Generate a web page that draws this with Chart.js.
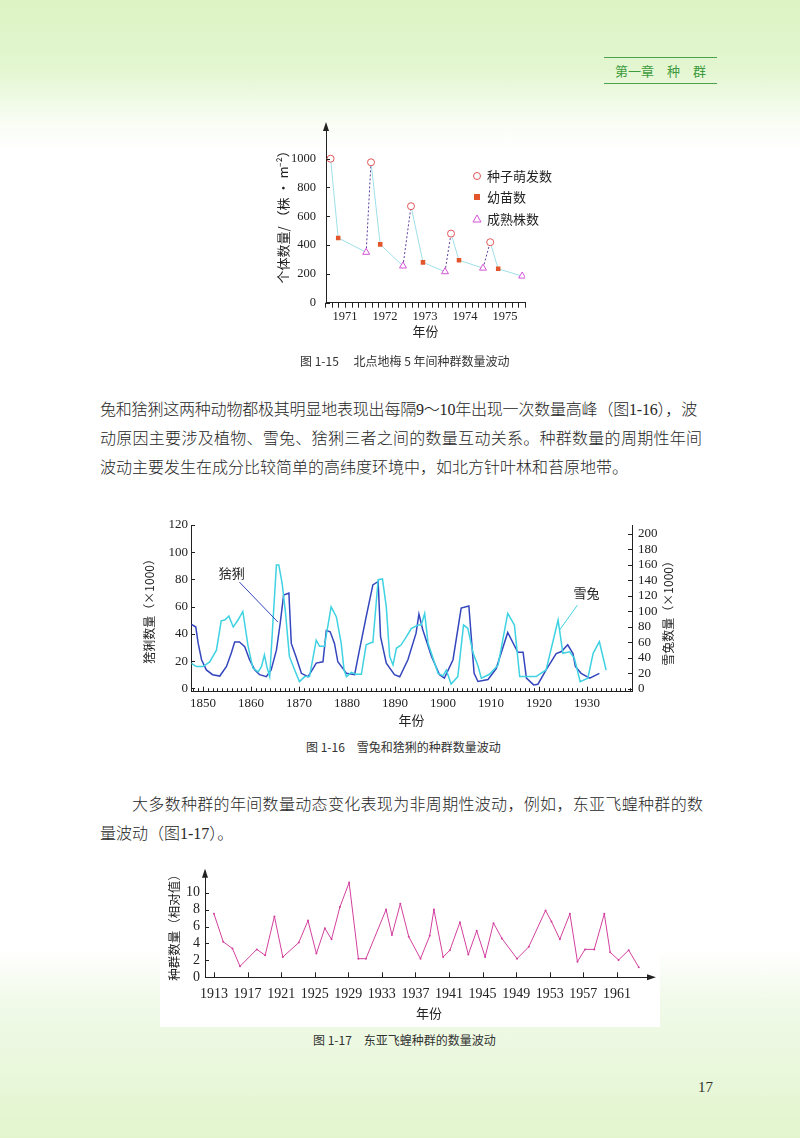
<!DOCTYPE html>
<html lang="zh-CN">
<head>
<meta charset="utf-8">
<title>第一章 种群</title>
<script src="https://cdn.jsdelivr.net/npm/chart.js@4.4.1/dist/chart.umd.min.js"></script>
<style>
html, body { margin: 0; padding: 0; }
body {
    width: 800px; height: 1138px; position: relative; overflow: hidden;
    background: linear-gradient(to bottom, #dcf3c3 0px, #e3f6d1 70px, #f8fdf3 120px, #ffffff 150px, #ffffff 950px, #f1faea 1000px, #e2f5cd 1138px);
    font-family: "Liberation Serif", "Noto Sans CJK SC", serif;
    color: #222;
}
.box { position: absolute; }
.line { position: absolute; font-size: 16px; line-height: 29px; height: 29px; font-weight: 300; color: #262626; }
.just { text-align: justify; text-align-last: justify; }
.cap { position: absolute; font-family: "Noto Sans CJK SC", sans-serif; font-size: 12px; line-height: 16px; color: #333; white-space: pre; }
.head { position: absolute; left: 604px; top: 57px; width: 113px; height: 25px; border-top: 1.5px solid #4aa24a; border-bottom: 1.5px solid #4aa24a;
        font-family: "Noto Sans CJK SC", sans-serif; font-size: 13px; line-height: 25px; color: #3d9a3d; text-align: center; white-space: pre; }
</style>
</head>
<body>

<div class="head">第一章　种　群</div>

<!-- 图 1-15 -->
<div class="box" style="left:270px; top:118px; width:295px; height:235px;"><canvas id="chartPlant"></canvas></div>
<div class="cap" style="left:300px; top:353px;">图 1-15　 北点地梅 5 年间种群数量波动</div>

<div class="line" style="left:100px; top:395px; white-space:nowrap; letter-spacing:-0.2px;">兔和猞猁这两种动物都极其明显地表现出每隔9～10年出现一次数量高峰（图1-16），波</div>
<div class="line just" style="left:100px; top:424px; width:602px;">动原因主要涉及植物、雪兔、猞猁三者之间的数量互动关系。种群数量的周期性年间</div>
<div class="line" style="left:100px; top:453px;">波动主要发生在成分比较简单的高纬度环境中，如北方针叶林和苔原地带。</div>

<!-- 图 1-16 -->
<div class="box" style="left:130px; top:505px; width:560px; height:230px;"><canvas id="chartLynx"></canvas></div>
<div class="cap" style="left:306px; top:739px;">图 1-16　雪兔和猞猁的种群数量波动</div>

<div class="line just" style="left:132px; top:790px; width:571px;">大多数种群的年间数量动态变化表现为非周期性波动，例如，东亚飞蝗种群的数</div>
<div class="line" style="left:100px; top:819px;">量波动（图1-17）。</div>

<!-- 图 1-17 -->
<div class="box" style="left:160px; top:862px; width:500px; height:165px; background:#ffffff;"><canvas id="chartLocust"></canvas></div>
<div class="cap" style="left:313px; top:1032px;">图 1-17　东亚飞蝗种群的数量波动</div>

<div class="box" style="left:698px; top:1079px; font-size:15px; color:#333;">17</div>

<script>
// ----------------------------------------------------------
// 数据：图 1-15 北点地梅（年份取小数，数量单位 株/m²）
// ----------------------------------------------------------
const germYears = [1970.64, 1971.65, 1972.65, 1973.65, 1974.63];
const germCount = [1000, 975, 670, 480, 420];
const seedlingYears = [1970.83, 1971.88, 1972.95, 1973.85, 1974.83];
const seedlingCount = [450, 405, 280, 295, 235];
const matureYears = [1971.53, 1972.45, 1973.5, 1974.45, 1975.43];
const matureCount = [350, 255, 215, 240, 185];
const plantYTicks = [0, 200, 400, 600, 800, 1000];

// ----------------------------------------------------------
// 数据：图 1-16 猞猁（左轴）和雪兔（右轴），单位 ×1000
// ----------------------------------------------------------
const lynxYears = [1847.6, 1848.5, 1849.0, 1849.7, 1850.7, 1852.0, 1853.5, 1854.9, 1855.9, 1856.6,
    1857.6, 1858.7, 1859.7, 1860.8, 1861.8, 1863.2, 1864.2, 1865.3, 1866.1, 1866.8,
    1867.9, 1868.4, 1869.4, 1870.5, 1871.9, 1873.6, 1875.0, 1875.7, 1876.5, 1877.4,
    1878.1, 1879.9, 1881.6, 1882.6, 1884.0, 1885.4, 1886.5, 1887.0, 1888.2, 1889.9,
    1891.0, 1892.7, 1894.4, 1895.0, 1895.8, 1897.6, 1899.3, 1900.3, 1902.1, 1903.8,
    1905.4, 1906.5, 1907.3, 1909.4, 1911.1, 1913.5, 1915.6, 1916.7, 1917.4, 1918.9,
    1919.8, 1921.5, 1923.6, 1924.7, 1926.0, 1927.1, 1927.6, 1928.8, 1930.6, 1932.6];
const lynxCount = [47, 45, 33, 21, 13.5, 10, 9, 16, 26, 34,
    34, 30.5, 21, 13.5, 10, 8.5, 13.5, 28, 48, 68.5,
    70, 33, 23, 11, 8.5, 18.5, 19.5, 42.5, 41.5, 33,
    19.5, 11, 10, 28, 52.5, 76, 78.5, 38, 18.5, 10,
    8.5, 21, 40.5, 54.5, 43, 23.5, 10, 7.5, 21, 59,
    60.5, 11, 5, 6.5, 14.5, 41, 26.5, 26.5, 7.5, 2.5,
    3, 13.5, 25.5, 27, 32, 25.5, 16, 11, 7.5, 11];

const hareYears = [1847.6, 1848.6, 1850.0, 1851.4, 1852.8, 1853.8, 1854.5, 1855.4, 1856.3, 1857.3,
    1858.3, 1859.4, 1860.4, 1861.5, 1862.2, 1862.8, 1863.3, 1863.9, 1864.6, 1865.3,
    1865.8, 1866.5, 1867.2, 1868.0, 1869.4, 1870.1, 1871.2, 1872.2, 1873.6, 1874.3,
    1875.3, 1876.7, 1877.8, 1878.8, 1879.4, 1879.9, 1880.9, 1881.9, 1883.0, 1884.0,
    1885.1, 1885.4, 1886.5, 1887.4, 1888.2, 1888.9, 1889.6, 1890.3, 1891.3, 1892.4,
    1893.4, 1894.8, 1895.5, 1896.2, 1896.9, 1898.3, 1899.0, 1900.0, 1900.7, 1901.7,
    1903.1, 1904.3, 1905.2, 1906.3, 1907.3, 1908.0, 1909.7, 1911.5, 1913.5, 1914.9,
    1916.0, 1917.4, 1919.4, 1921.5, 1924.0, 1925.0, 1926.4, 1927.4, 1928.6, 1930.2,
    1931.3, 1932.6, 1934.0];
const hareCount = [33, 29, 29, 35, 50, 88, 89, 94, 80, 89,
    100, 55, 27, 22, 29, 44, 29, 16, 89, 160,
    160, 136, 98, 42, 20, 9.5, 16, 16, 63, 55,
    55, 106, 93, 59, 24.5, 16, 21.5, 19, 19, 57,
    60, 60, 141, 142, 106, 42, 31, 52.5, 57, 67.5,
    78, 82.5, 82.5, 97.5, 59, 33, 20, 17, 24.5, 6.5,
    16, 82.5, 78, 46, 30, 14, 19, 31, 97.5, 82.5,
    16, 16, 16, 24.5, 89, 46, 48, 39.5, 9.5, 14,
    46, 61, 24.5];
const lynxYTicks = [0, 20, 40, 60, 80, 100, 120];
const hareYTicks = [0, 20, 40, 60, 80, 100, 120, 140, 160, 180, 200];

// ----------------------------------------------------------
// 数据：图 1-17 东亚飞蝗（相对值）
// ----------------------------------------------------------
const locustYears = [1913.0, 1914.1, 1915.2, 1916.1, 1918.1, 1919.1, 1920.2, 1921.2, 1923.1, 1924.2,
    1925.2, 1926.2, 1927.0, 1928.0, 1929.1, 1930.2, 1931.1, 1933.5, 1934.2, 1935.2,
    1936.2, 1937.6, 1938.7, 1939.2, 1940.3, 1941.1, 1942.3, 1943.3, 1944.3, 1945.3,
    1946.3, 1947.3, 1949.1, 1950.5, 1952.5, 1953.2, 1954.2, 1955.4, 1956.3, 1957.2,
    1958.3, 1959.5, 1960.2, 1961.2, 1962.4, 1963.6];
const locustValue = [7.5, 4.2, 3.4, 1.3, 3.3, 2.6, 7.2, 2.4, 4.1, 6.7,
    2.8, 5.8, 4.5, 8.3, 11.2, 2.2, 2.2, 8.0, 5.0, 8.7,
    4.8, 2.2, 4.9, 8.0, 2.4, 3.2, 6.5, 2.7, 5.5, 2.4,
    6.4, 4.6, 2.2, 3.6, 7.9, 6.6, 4.5, 7.5, 1.85, 3.3,
    3.3, 7.5, 2.95, 2.05, 3.2, 1.2];
const locustXTicks = [1913, 1917, 1921, 1925, 1929, 1933, 1937, 1941, 1945, 1949, 1953, 1957, 1961];
const locustYTicks = [0, 2, 4, 6, 8, 10];

// ----------------------------------------------------------
// 通用字体与颜色
// ----------------------------------------------------------
const serif = "'Liberation Serif', serif";
const hei = "'Noto Sans CJK SC', sans-serif";
const ink = "#222";
const plain = v => String(v);

// 固定坐标轴尺寸，并去掉 Chart.js 为刻度文字自动加的边距
function fixSize(prop, size) {
    return s => {
        s[prop] = size;
        s.paddingTop = 0;
        s.paddingBottom = 0;
        s.paddingLeft = 0;
        s.paddingRight = 0;
    };
}

// ----------------------------------------------------------
// 插件：刻度短线（向内或向外）
// ----------------------------------------------------------
const tickMarks = {
    id: "tickMarks",
    afterDatasetsDraw(chart, args, opts) {
        const ctx = chart.ctx;
        ctx.save();
        ctx.strokeStyle = opts.color || ink;
        ctx.lineWidth = 1;
        ctx.beginPath();
        (opts.axes || []).forEach(a => {
            const s = chart.scales[a.id];
            const sign = a.dir === "in" ? 1 : -1;
            s.ticks.forEach(t => {
                const len = (t.label !== "" ? a.major : a.minor) * sign;
                const p = Math.round(s.getPixelForValue(t.value)) + 0.5;
                if (s.isHorizontal()) {
                    ctx.moveTo(p, s.top);
                    ctx.lineTo(p, s.top - len);
                } else if (s.position === "left") {
                    ctx.moveTo(s.right, p);
                    ctx.lineTo(s.right + len, p);
                } else {
                    ctx.moveTo(s.left, p);
                    ctx.lineTo(s.left - len, p);
                }
            });
        });
        ctx.stroke();
        ctx.restore();
    }
};

// ----------------------------------------------------------
// 插件：坐标轴箭头
// ----------------------------------------------------------
const axisArrows = {
    id: "axisArrows",
    afterDraw(chart, args, opts) {
        const ctx = chart.ctx;
        const area = chart.chartArea;
        ctx.save();
        ctx.fillStyle = ink;
        if (opts.up) {
            ctx.beginPath();
            ctx.moveTo(area.left, area.top - 3);
            ctx.lineTo(area.left - 3, area.top + 6);
            ctx.lineTo(area.left + 3, area.top + 6);
            ctx.closePath();
            ctx.fill();
        }
        if (opts.right) {
            ctx.beginPath();
            ctx.moveTo(area.right + 3, area.bottom);
            ctx.lineTo(area.right - 6, area.bottom - 3);
            ctx.lineTo(area.right - 6, area.bottom + 3);
            ctx.closePath();
            ctx.fill();
        }
        ctx.restore();
    }
};

// ----------------------------------------------------------
// 插件：附加文字（标注线、右轴标题）
// ----------------------------------------------------------
const extraText = {
    id: "extraText",
    afterDraw(chart, args, opts) {
        const ctx = chart.ctx;
        ctx.save();
        (opts.leaders || []).forEach(l => {
            const xs = chart.scales.x;
            const ys = chart.scales[l.axis];
            ctx.strokeStyle = l.color;
            ctx.lineWidth = 1;
            ctx.beginPath();
            ctx.moveTo(xs.getPixelForValue(l.from[0]), ys.getPixelForValue(l.from[1]));
            ctx.lineTo(xs.getPixelForValue(l.to[0]), ys.getPixelForValue(l.to[1]));
            ctx.stroke();
            ctx.fillStyle = ink;
            ctx.font = "13px " + hei;
            ctx.textAlign = "center";
            ctx.textBaseline = "middle";
            ctx.fillText(l.text, xs.getPixelForValue(l.at[0]), ys.getPixelForValue(l.at[1]));
        });
        if (opts.sideTitle) {
            const st = opts.sideTitle;
            const area = chart.chartArea;
            ctx.translate(area.right + st.offset, (area.top + area.bottom) / 2 + st.shift);
            ctx.rotate(-Math.PI / 2);
            ctx.fillStyle = ink;
            ctx.font = "12px " + hei;
            ctx.textAlign = "center";
            ctx.textBaseline = "middle";
            ctx.fillText(st.text, 0, 0);
        }
        ctx.restore();
    }
};

// ----------------------------------------------------------
// 插件：图 1-15 的图例
// ----------------------------------------------------------
const plantLegend = {
    id: "plantLegend",
    afterDraw(chart, args, opts) {
        const ctx = chart.ctx;
        const area = chart.chartArea;
        ctx.save();
        ctx.font = "13px " + hei;
        ctx.textBaseline = "middle";
        opts.items.forEach(it => {
            const x = area.left + opts.dx;
            const y = area.top + it.dy;
            ctx.lineWidth = 1;
            if (it.shape === "circle") {
                ctx.beginPath();
                ctx.arc(x, y, 3.5, 0, Math.PI * 2);
                ctx.fillStyle = "#fff";
                ctx.fill();
                ctx.strokeStyle = "#e0565a";
                ctx.stroke();
            } else if (it.shape === "rect") {
                ctx.fillStyle = "#e3552b";
                ctx.fillRect(x - 3, y - 3, 6, 6);
            } else {
                ctx.beginPath();
                ctx.moveTo(x, y - 4);
                ctx.lineTo(x - 4, y + 3);
                ctx.lineTo(x + 4, y + 3);
                ctx.closePath();
                ctx.fillStyle = "#fff";
                ctx.fill();
                ctx.strokeStyle = "#d651d6";
                ctx.stroke();
            }
            ctx.fillStyle = ink;
            ctx.fillText(it.text, x + 10, y);
        });
        ctx.restore();
    }
};

Chart.defaults.animation = false;
Chart.defaults.color = ink;

// ----------------------------------------------------------
// 图 1-15：北点地梅
// ----------------------------------------------------------
function renderPlantChart() {
    const lifeX = [];
    const lifeY = [];
    const lifeKind = [];
    for (let i = 0; i < germYears.length; i++) {
        lifeX.push(germYears[i], seedlingYears[i], matureYears[i]);
        lifeY.push(germCount[i], seedlingCount[i], matureCount[i]);
        lifeKind.push("germ", "seedling", "mature");
    }
    const toPoints = (xs, ys) => xs.map((x, i) => ({ x: x, y: ys[i] }));

    new Chart(document.getElementById("chartPlant"), {
        type: "scatter",
        data: {
            datasets: [
                {
                    data: toPoints(germYears, germCount),
                    pointStyle: "circle", pointRadius: 3.5,
                    pointBackgroundColor: "#fff", pointBorderColor: "#e0565a", pointBorderWidth: 1,
                    order: 1
                },
                {
                    data: toPoints(seedlingYears, seedlingCount),
                    pointStyle: "rect", pointRadius: 3.2,
                    pointBackgroundColor: "#e3552b", pointBorderColor: "#e3552b", pointBorderWidth: 0,
                    order: 1
                },
                {
                    data: toPoints(matureYears, matureCount),
                    pointStyle: "triangle", pointRadius: 4,
                    pointBackgroundColor: "#fff", pointBorderColor: "#d651d6", pointBorderWidth: 1,
                    order: 1
                },
                {
                    data: toPoints(lifeX, lifeY),
                    showLine: true, pointRadius: 0, borderWidth: 1,
                    borderColor: "#9fdfe9",
                    segment: {
                        borderColor: c => lifeKind[c.p0DataIndex] === "mature" ? "#5b3f9e" : "#9fdfe9",
                        borderDash: c => lifeKind[c.p0DataIndex] === "mature" ? [2, 2] : undefined
                    },
                    order: 2
                }
            ]
        },
        options: {
            responsive: true,
            maintainAspectRatio: false,
            layout: { padding: { top: 7, right: 40, left: 0, bottom: 0 } },
            plugins: {
                legend: { display: false },
                tooltip: { enabled: false },
                tickMarks: { axes: [{ id: "x", dir: "out", major: 5, minor: 5 }, { id: "y", dir: "in", major: 4, minor: 4 }] },
                axisArrows: { up: true },
                plantLegend: {
                    dx: 151,
                    items: [
                        { shape: "circle", dy: 51, text: "种子萌发数" },
                        { shape: "rect", dy: 72, text: "幼苗数" },
                        { shape: "triangle", dy: 94, text: "成熟株数" }
                    ]
                }
            },
            scales: {
                x: {
                    type: "linear", min: 1970.525, max: 1975.5,
                    afterBuildTicks: s => {
                        const t = [];
                        for (let k = 0; k <= 30; k++) t.push({ value: 1970.5 + k / 6 });
                        s.ticks = t;
                    },
                    afterFit: fixSize("height", 50.3),
                    grid: { display: false, drawTicks: false },
                    border: { color: ink, width: 1 },
                    ticks: {
                        autoSkip: false, maxRotation: 0, padding: 7,
                        font: { family: serif, size: 12.5 },
                        callback: v => Math.abs(v - Math.round(v)) < 1e-6 ? String(Math.round(v)) : ""
                    },
                    title: { display: true, text: "年份", font: { family: hei, size: 13 }, padding: { top: 0, bottom: 14 } }
                },
                y: {
                    min: 0, max: 1234,
                    afterBuildTicks: s => { s.ticks = plantYTicks.map(v => ({ value: v })); },
                    afterFit: fixSize("width", 56),
                    grid: { display: false, drawTicks: false },
                    border: { color: ink, width: 1 },
                    ticks: { autoSkip: false, padding: 10, font: { family: serif, size: 12.5 }, callback: plain },
                    title: { display: true, text: "个体数量/ （株 · m⁻²）", font: { family: hei, size: 13 }, padding: { top: 5, bottom: 0 } }
                }
            }
        },
        plugins: [tickMarks, axisArrows, plantLegend]
    });
}

// ----------------------------------------------------------
// 图 1-16：雪兔和猞猁
// ----------------------------------------------------------
function renderLynxChart() {
    const years = [];
    for (let y = 1848; y <= 1939; y++) years.push(y);

    new Chart(document.getElementById("chartLynx"), {
        type: "scatter",
        data: {
            datasets: [
                {
                    label: "雪兔",
                    data: hareYears.map((x, i) => ({ x: x, y: hareCount[i] })),
                    yAxisID: "y2", showLine: true, pointRadius: 0,
                    borderColor: "#3fd2e2", borderWidth: 1.5
                },
                {
                    label: "猞猁",
                    data: lynxYears.map((x, i) => ({ x: x, y: lynxCount[i] })),
                    yAxisID: "y", showLine: true, pointRadius: 0,
                    borderColor: "#3446bd", borderWidth: 1.5
                }
            ]
        },
        options: {
            responsive: true,
            maintainAspectRatio: false,
            layout: { padding: { top: 20, right: 0, left: 0, bottom: 0 } },
            plugins: {
                legend: { display: false },
                tooltip: { enabled: false },
                tickMarks: {
                    axes: [
                        { id: "x", dir: "in", major: 5, minor: 3.5 },
                        { id: "y", dir: "in", major: 4, minor: 4 },
                        { id: "y2", dir: "in", major: 4, minor: 4 }
                    ]
                },
                extraText: {
                    leaders: [
                        { text: "猞猁", axis: "y", at: [1856, 84.7], from: [1857.6, 78], to: [1865.6, 48.7], color: "#3446bd" },
                        { text: "雪兔", axis: "y2", at: [1929.9, 124], from: [1928, 108], to: [1924.3, 76], color: "#3fd2e2" }
                    ],
                    sideTitle: { text: "雪兔数量（×1000）", offset: 36, shift: 2 }
                }
            },
            scales: {
                x: {
                    type: "linear", min: 1847.5, max: 1939.4,
                    afterBuildTicks: s => { s.ticks = years.map(v => ({ value: v })); },
                    afterFit: fixSize("height", 43.3),
                    grid: { display: false, drawTicks: false },
                    border: { color: ink, width: 1 },
                    ticks: {
                        autoSkip: false, maxRotation: 0, padding: 4,
                        font: { family: serif, size: 13 },
                        callback: v => v % 10 === 0 ? String(v) : ""
                    },
                    title: { display: true, text: "年份", font: { family: hei, size: 13 }, padding: { top: 0, bottom: 7 } }
                },
                y: {
                    position: "left", min: -2.5, max: 120,
                    afterBuildTicks: s => { s.ticks = lynxYTicks.map(v => ({ value: v })); },
                    afterFit: fixSize("width", 61),
                    grid: { display: false, drawTicks: false },
                    border: { color: ink, width: 1 },
                    ticks: { autoSkip: false, padding: 3, font: { family: serif, size: 13 }, callback: plain },
                    title: { display: true, text: "猞猁数量（×1000）", font: { family: hei, size: 12 }, padding: { top: 12, bottom: 0 } }
                },
                y2: {
                    position: "right", min: -3.5, max: 211.6,
                    afterBuildTicks: s => { s.ticks = hareYTicks.map(v => ({ value: v })); },
                    afterFit: fixSize("width", 58),
                    grid: { display: false, drawTicks: false },
                    border: { color: ink, width: 1 },
                    ticks: { autoSkip: false, padding: 6, font: { family: serif, size: 13 }, callback: plain }
                }
            }
        },
        plugins: [tickMarks, extraText]
    });
}

// ----------------------------------------------------------
// 图 1-17：东亚飞蝗
// ----------------------------------------------------------
function renderLocustChart() {
    new Chart(document.getElementById("chartLocust"), {
        type: "scatter",
        data: {
            datasets: [{
                label: "东亚飞蝗",
                data: locustYears.map((x, i) => ({ x: x, y: locustValue[i] })),
                showLine: true, pointRadius: 1, pointBackgroundColor: "#d2409e", pointBorderWidth: 0,
                borderColor: "#d2409e", borderWidth: 1
            }]
        },
        options: {
            responsive: true,
            maintainAspectRatio: false,
            layout: { padding: { top: 9.7, right: 7, left: 0, bottom: 0 } },
            plugins: {
                legend: { display: false },
                tooltip: { enabled: false },
                tickMarks: { axes: [{ id: "x", dir: "in", major: 5, minor: 5 }, { id: "y", dir: "in", major: 4, minor: 4 }] },
                axisArrows: { up: true, right: true }
            },
            scales: {
                x: {
                    type: "linear", min: 1911.93, max: 1965.3,
                    afterBuildTicks: s => { s.ticks = locustXTicks.map(v => ({ value: v })); },
                    afterFit: fixSize("height", 49.7),
                    grid: { display: false, drawTicks: false },
                    border: { color: ink, width: 1 },
                    ticks: { autoSkip: false, maxRotation: 0, padding: 9, font: { family: serif, size: 14 }, callback: plain },
                    title: { display: true, text: "年份", font: { family: hei, size: 13 }, padding: { top: 0, bottom: 6 } }
                },
                y: {
                    min: 0, max: 12.48,
                    afterBuildTicks: s => { s.ticks = locustYTicks.map(v => ({ value: v })); },
                    afterFit: fixSize("width", 45),
                    grid: { display: false, drawTicks: false },
                    border: { color: ink, width: 1 },
                    ticks: { autoSkip: false, padding: 5, font: { family: serif, size: 14 }, callback: plain },
                    title: { display: true, text: "种群数量（相对值）", font: { family: hei, size: 12.5 }, padding: { top: 7, bottom: 0 } }
                }
            }
        },
        plugins: [tickMarks, axisArrows]
    });
}

renderPlantChart();
renderLynxChart();
renderLocustChart();
</script>
</body>
</html>
